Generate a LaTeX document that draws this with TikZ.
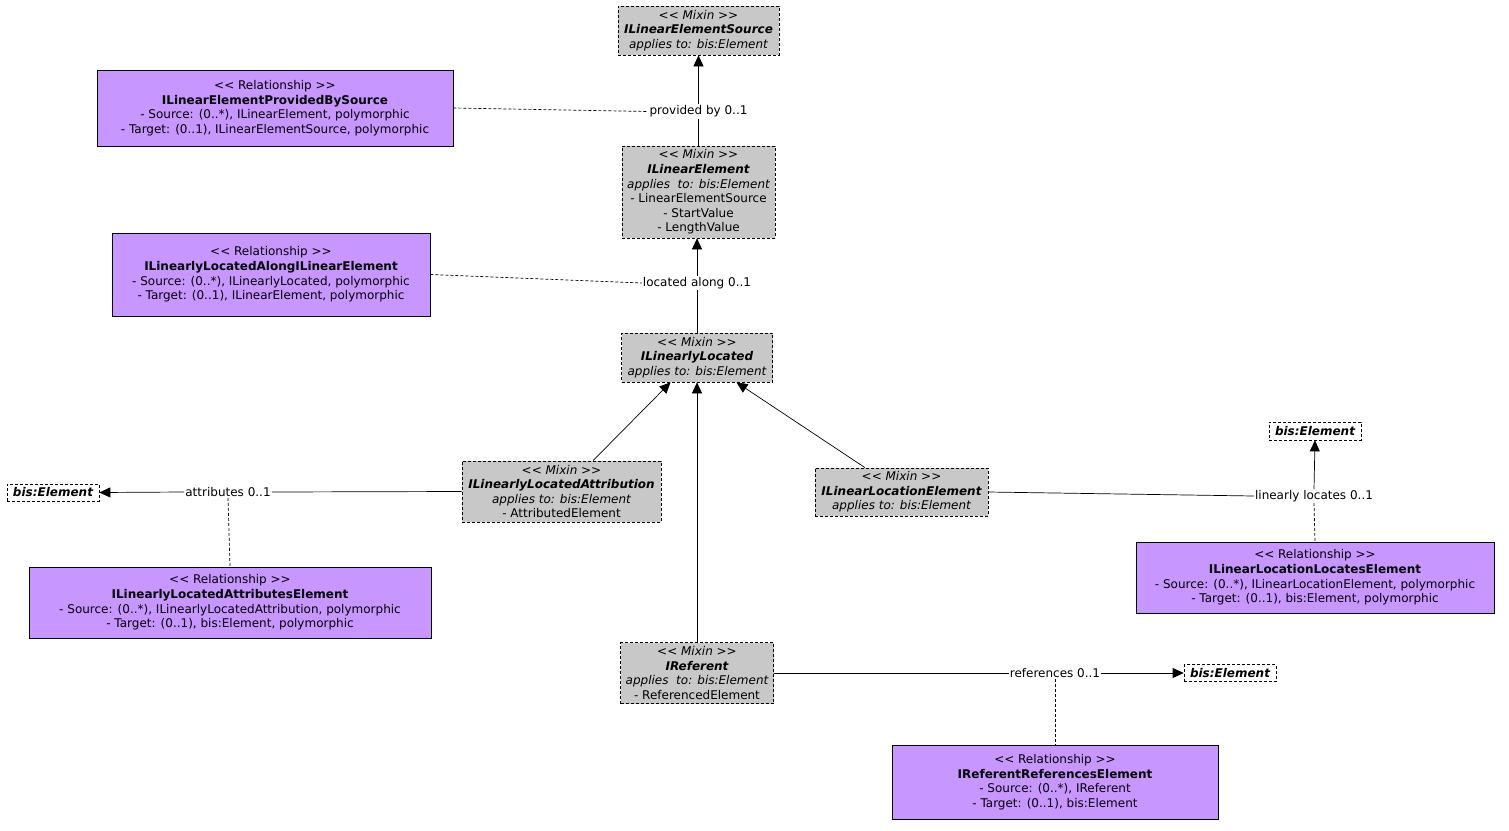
\documentclass[tikz,border=0pt]{standalone}
\usepackage{fontspec}
\setmainfont{DejaVu Sans}
\usetikzlibrary{arrows.meta,calc}
\definecolor{mixgray}{RGB}{200,200,200}
\definecolor{relpurple}{RGB}{200,150,255}
\newcommand{\stereo}[1]{<{}< #1 >{}>}
\tikzset{
  base/.style={inner sep=0pt, align=center, font=\fontsize{12}{14.6}\selectfont},
  mixin/.style={base, draw, fill=mixgray, dash pattern=on 3pt off 2pt, line width=0.7pt},
  rel/.style={base, draw, fill=relpurple, line width=0.8pt},
  ext/.style={base, draw, fill=white, dash pattern=on 3pt off 2pt, line width=0.7pt, font=\fontsize{12}{12}\selectfont\bfseries\itshape},
  lbl/.style={base, fill=white, inner sep=1pt},
  conn/.style={line width=0.7pt},
  tip/.style={conn, -{Triangle[length=11pt,width=10pt]}},
  dconn/.style={line width=0.7pt, dash pattern=on 3pt off 2pt}
}
\begin{document}
\begin{tikzpicture}[x=1pt,y=-1pt]
\useasboundingbox (0,0) rectangle (1509,830);
% mixins
\node[mixin, minimum width=161, minimum height=49] (src) at (698.5,30.5)
  {\itshape \stereo{Mixin}\\ \bfseries\itshape ILinearElementSource\\ \itshape applies to: bis:Element};
\node[mixin, minimum width=153, minimum height=92] (le) at (698.5,192)
  {\itshape \stereo{Mixin}\\ \bfseries\itshape ILinearElement\\ \itshape applies\ \ to: bis:Element\\ - LinearElementSource\\ - StartValue\\ - LengthValue};
\node[mixin, minimum width=151, minimum height=49] (ll) at (697,357.5)
  {\itshape \stereo{Mixin}\\ \bfseries\itshape ILinearlyLocated\\ \itshape applies to: bis:Element};
\node[mixin, minimum width=199, minimum height=61] (lla) at (561.5,491.5)
  {\itshape \stereo{Mixin}\\ \bfseries\itshape ILinearlyLocatedAttribution\\ \itshape applies to: bis:Element\\ - AttributedElement};
\node[mixin, minimum width=173, minimum height=48] (lle) at (901.5,492)
  {\itshape \stereo{Mixin}\\ \bfseries\itshape ILinearLocationElement\\ \itshape applies to: bis:Element};
\node[mixin, minimum width=153, minimum height=61] (ref) at (697,673)
  {\itshape \stereo{Mixin}\\ \bfseries\itshape IReferent\\ \itshape applies\ \ to: bis:Element\\ - ReferencedElement};
% external
\node[ext, minimum width=92, minimum height=17] (bisL) at (53,492.5) {bis:Element};
\node[ext, minimum width=92, minimum height=18] (bisR) at (1315,431) {bis:Element};
\node[ext, minimum width=92, minimum height=17] (bisB) at (1230,673) {bis:Element};
% relationships
\node[rel, minimum width=356, minimum height=76] (prov) at (275,108)
  {\stereo{Relationship}\\ \bfseries ILinearElementProvidedBySource\\ - Source: (0..*), ILinearElement, polymorphic\\ - Target: (0..1), ILinearElementSource, polymorphic};
\node[rel, minimum width=318, minimum height=83] (along) at (271,274.5)
  {\stereo{Relationship}\\ \bfseries ILinearlyLocatedAlongILinearElement\\ - Source: (0..*), ILinearlyLocated, polymorphic\\ - Target: (0..1), ILinearElement, polymorphic};
\node[rel, minimum width=402, minimum height=71] (attr) at (230,602.5)
  {\stereo{Relationship}\\ \bfseries ILinearlyLocatedAttributesElement\\ - Source: (0..*), ILinearlyLocatedAttribution, polymorphic\\ - Target: (0..1), bis:Element, polymorphic};
\node[rel, minimum width=358, minimum height=71] (locates) at (1315,577.5)
  {\stereo{Relationship}\\ \bfseries ILinearLocationLocatesElement\\ - Source: (0..*), ILinearLocationElement, polymorphic\\ - Target: (0..1), bis:Element, polymorphic};
\node[rel, minimum width=326, minimum height=74] (refrel) at (1055,782)
  {\stereo{Relationship}\\ \bfseries IReferentReferencesElement\\ - Source: (0..*), IReferent\\ - Target: (0..1), bis:Element};
% labels
\node[lbl] (lprov) at (698.5,111.5) {provided by 0..1};
\node[lbl] (lalong) at (697,283) {located along 0..1};
\node[lbl] (lattr) at (228,492) {attributes 0..1};
\node[lbl] (lloc) at (1314,496) {linearly locates 0..1};
\node[lbl] (lref) at (1055,673) {references 0..1};
% connectors
\draw[conn] (le.north) -- (lprov.south);
\draw[tip] (lprov.north) -- (src.south);
\draw[dconn] (prov.east) -- (lprov.west);
\draw[conn] (ll.north) -- (lalong.south);
\draw[tip] (lalong.north) -- (lalong.north |- le.south);
\draw[dconn] (along.east) -- (lalong.west);
\draw[tip] ([xshift=31.5pt]lla.north) -- ([xshift=-26.5pt]ll.south);
\draw[tip] ([xshift=-36.5pt]lle.north) -- ([xshift=39.5pt]ll.south);
\draw[tip] (ref.north) -- (ll.south);
\draw[conn] (lla.west) -- (lattr.east);
\draw[tip] (lattr.west) -- (bisL.east);
\draw[dconn] (lattr.south) -- (attr.north);
\draw[conn] (lle.east) -- (lloc.west);
\draw[tip] (lloc.north) -- (bisR.south);
\draw[dconn] (lloc.south) -- (locates.north);
\draw[conn] (ref.east) -- (lref.west);
\draw[tip] (lref.east) -- (bisB.west);
\draw[dconn] (lref.south) -- (refrel.north);
\end{tikzpicture}
\end{document}
